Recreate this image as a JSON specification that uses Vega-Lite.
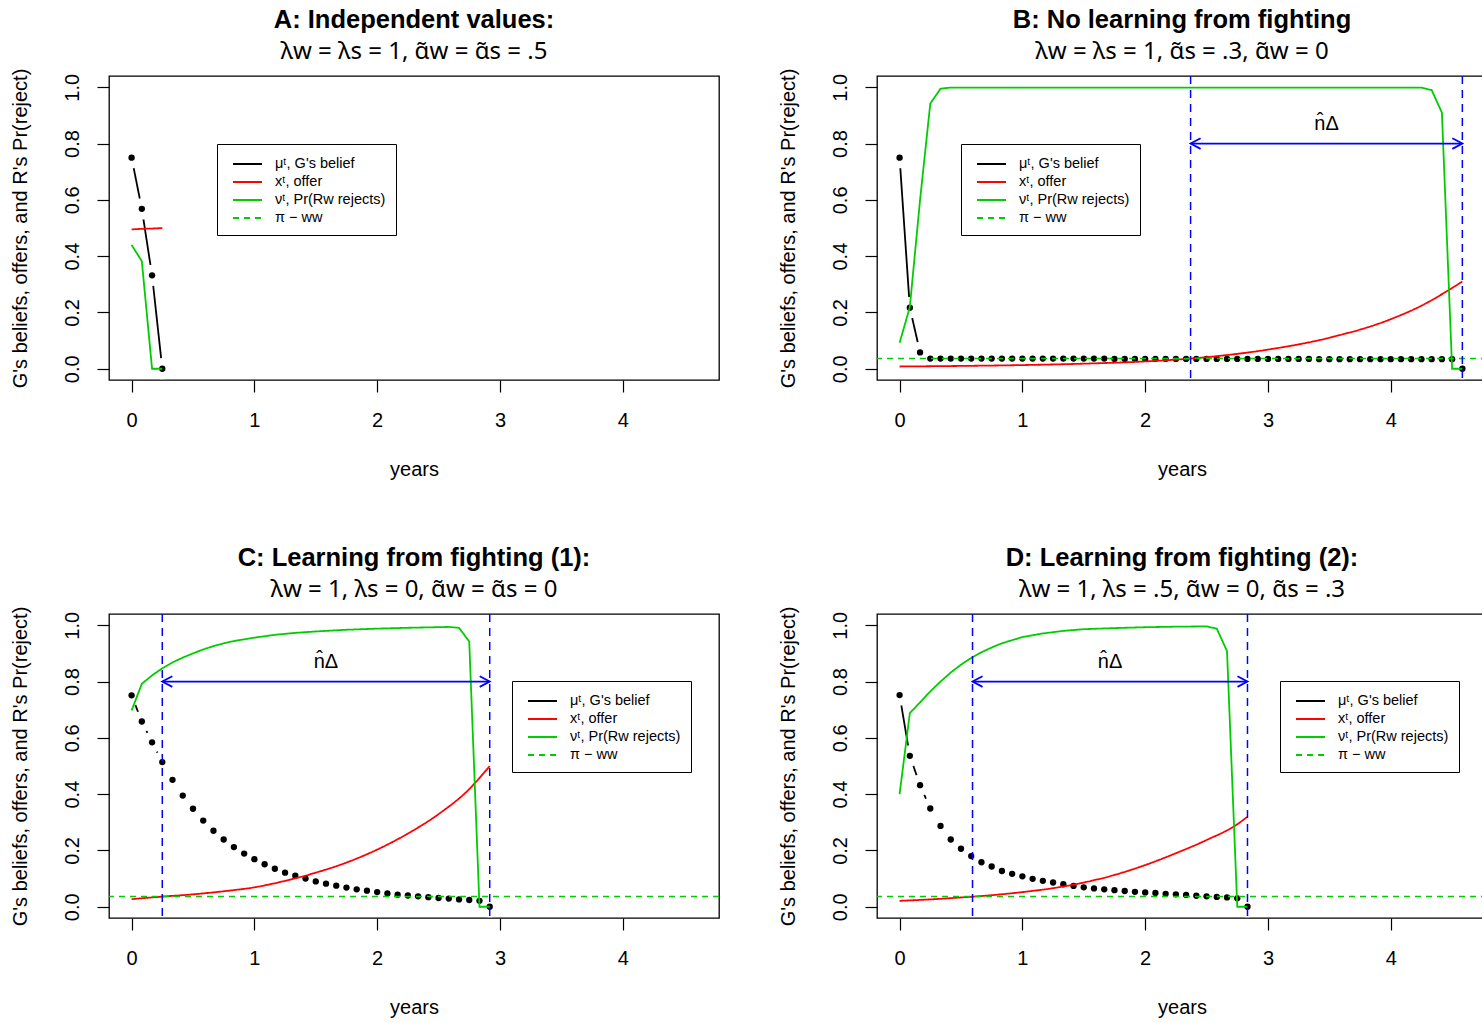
{
"$schema": "https://vega.github.io/schema/vega-lite/v6.json",
"padding": {"left": 9, "top": 7, "right": 0, "bottom": 0},
"background": "white",
"data": {"values": [
{"p":"A","s":"mu","t":0,"y":0.75},{"p":"A","s":"mu","t":0.0833,"y":0.568},{"p":"A","s":"mu","t":0.1667,"y":0.332},{"p":"A","s":"mu","t":0.25,"y":0},
{"p":"A","s":"x","t":0,"y":0.495},{"p":"A","s":"x","t":0.0833,"y":0.497},{"p":"A","s":"x","t":0.1667,"y":0.498},{"p":"A","s":"x","t":0.25,"y":0.5},
{"p":"A","s":"nu","t":0,"y":0.44},{"p":"A","s":"nu","t":0.0833,"y":0.382},{"p":"A","s":"nu","t":0.1667,"y":0},{"p":"A","s":"nu","t":0.25,"y":0},

{"p":"B","s":"mu","t":0,"y":0.75},{"p":"B","s":"mu","t":0.0833,"y":0.217},{"p":"B","s":"mu","t":0.1667,"y":0.058},{"p":"B","s":"mu","t":0.25,"y":0.036},
{"p":"B","s":"mu","t":0.3333,"y":0.036},{"p":"B","s":"mu","t":0.4167,"y":0.036},{"p":"B","s":"mu","t":0.5,"y":0.036},{"p":"B","s":"mu","t":0.5833,"y":0.036},
{"p":"B","s":"mu","t":0.6667,"y":0.036},{"p":"B","s":"mu","t":0.75,"y":0.036},{"p":"B","s":"mu","t":0.8333,"y":0.036},{"p":"B","s":"mu","t":0.9167,"y":0.036},
{"p":"B","s":"mu","t":1,"y":0.036},{"p":"B","s":"mu","t":1.0833,"y":0.036},{"p":"B","s":"mu","t":1.1667,"y":0.036},{"p":"B","s":"mu","t":1.25,"y":0.036},
{"p":"B","s":"mu","t":1.3333,"y":0.036},{"p":"B","s":"mu","t":1.4167,"y":0.036},{"p":"B","s":"mu","t":1.5,"y":0.036},{"p":"B","s":"mu","t":1.5833,"y":0.036},
{"p":"B","s":"mu","t":1.6667,"y":0.036},{"p":"B","s":"mu","t":1.75,"y":0.035},{"p":"B","s":"mu","t":1.8333,"y":0.035},{"p":"B","s":"mu","t":1.9167,"y":0.035},
{"p":"B","s":"mu","t":2,"y":0.035},{"p":"B","s":"mu","t":2.0833,"y":0.035},{"p":"B","s":"mu","t":2.1667,"y":0.035},{"p":"B","s":"mu","t":2.25,"y":0.035},
{"p":"B","s":"mu","t":2.3333,"y":0.035},{"p":"B","s":"mu","t":2.4167,"y":0.035},{"p":"B","s":"mu","t":2.5,"y":0.035},{"p":"B","s":"mu","t":2.5833,"y":0.035},
{"p":"B","s":"mu","t":2.6667,"y":0.035},{"p":"B","s":"mu","t":2.75,"y":0.035},{"p":"B","s":"mu","t":2.8333,"y":0.035},{"p":"B","s":"mu","t":2.9167,"y":0.035},
{"p":"B","s":"mu","t":3,"y":0.035},{"p":"B","s":"mu","t":3.0833,"y":0.035},{"p":"B","s":"mu","t":3.1667,"y":0.035},{"p":"B","s":"mu","t":3.25,"y":0.035},
{"p":"B","s":"mu","t":3.3333,"y":0.035},{"p":"B","s":"mu","t":3.4167,"y":0.034},{"p":"B","s":"mu","t":3.5,"y":0.034},{"p":"B","s":"mu","t":3.5833,"y":0.034},
{"p":"B","s":"mu","t":3.6667,"y":0.034},{"p":"B","s":"mu","t":3.75,"y":0.034},{"p":"B","s":"mu","t":3.8333,"y":0.034},{"p":"B","s":"mu","t":3.9167,"y":0.034},
{"p":"B","s":"mu","t":4,"y":0.034},{"p":"B","s":"mu","t":4.0833,"y":0.034},{"p":"B","s":"mu","t":4.1667,"y":0.034},{"p":"B","s":"mu","t":4.25,"y":0.034},
{"p":"B","s":"mu","t":4.3333,"y":0.034},{"p":"B","s":"mu","t":4.4167,"y":0.034},{"p":"B","s":"mu","t":4.5,"y":0.034},{"p":"B","s":"mu","t":4.5833,"y":0},
{"p":"B","s":"x","t":0,"y":0.008},{"p":"B","s":"x","t":0.5,"y":0.01},{"p":"B","s":"x","t":1,"y":0.013},{"p":"B","s":"x","t":1.5,"y":0.018},
{"p":"B","s":"x","t":2,"y":0.026},{"p":"B","s":"x","t":2.5,"y":0.041},{"p":"B","s":"x","t":3,"y":0.068},{"p":"B","s":"x","t":3.5,"y":0.11},
{"p":"B","s":"x","t":4,"y":0.176},{"p":"B","s":"x","t":4.25,"y":0.224},{"p":"B","s":"x","t":4.5,"y":0.287},{"p":"B","s":"x","t":4.5833,"y":0.31},
{"p":"B","s":"nu","t":0,"y":0.092},{"p":"B","s":"nu","t":0.0833,"y":0.219},{"p":"B","s":"nu","t":0.1667,"y":0.6},{"p":"B","s":"nu","t":0.25,"y":0.942},
{"p":"B","s":"nu","t":0.3333,"y":0.995},{"p":"B","s":"nu","t":0.4167,"y":0.999},{"p":"B","s":"nu","t":1,"y":0.999},{"p":"B","s":"nu","t":2,"y":0.999},
{"p":"B","s":"nu","t":3,"y":0.999},{"p":"B","s":"nu","t":4,"y":0.999},{"p":"B","s":"nu","t":4.25,"y":0.999},{"p":"B","s":"nu","t":4.3333,"y":0.99},
{"p":"B","s":"nu","t":4.4167,"y":0.91},{"p":"B","s":"nu","t":4.5,"y":0},{"p":"B","s":"nu","t":4.5833,"y":0},
{"p":"B","s":"pi","y":0.036},
{"p":"B","s":"vl","t":2.37},{"p":"B","s":"vl","t":4.5833},
{"p":"B","s":"ar","t":2.37,"t2":4.5833,"y":0.8},
{"p":"B","s":"lab","t":3.477,"y":0.87},

{"p":"C","s":"mu","t":0,"y":0.751},{"p":"C","s":"mu","t":0.0833,"y":0.658},{"p":"C","s":"mu","t":0.1667,"y":0.584},{"p":"C","s":"mu","t":0.25,"y":0.514},
{"p":"C","s":"mu","t":0.3333,"y":0.451},{"p":"C","s":"mu","t":0.4167,"y":0.395},{"p":"C","s":"mu","t":0.5,"y":0.348},{"p":"C","s":"mu","t":0.5833,"y":0.306},
{"p":"C","s":"mu","t":0.6667,"y":0.27},{"p":"C","s":"mu","t":0.75,"y":0.239},{"p":"C","s":"mu","t":0.8333,"y":0.212},{"p":"C","s":"mu","t":0.9167,"y":0.189},
{"p":"C","s":"mu","t":1,"y":0.169},{"p":"C","s":"mu","t":1.0833,"y":0.151},{"p":"C","s":"mu","t":1.1667,"y":0.135},{"p":"C","s":"mu","t":1.25,"y":0.121},
{"p":"C","s":"mu","t":1.3333,"y":0.11},{"p":"C","s":"mu","t":1.4167,"y":0.1},{"p":"C","s":"mu","t":1.5,"y":0.09},{"p":"C","s":"mu","t":1.5833,"y":0.082},
{"p":"C","s":"mu","t":1.6667,"y":0.075},{"p":"C","s":"mu","t":1.75,"y":0.068},{"p":"C","s":"mu","t":1.8333,"y":0.062},{"p":"C","s":"mu","t":1.9167,"y":0.057},
{"p":"C","s":"mu","t":2,"y":0.052},{"p":"C","s":"mu","t":2.0833,"y":0.047},{"p":"C","s":"mu","t":2.1667,"y":0.043},{"p":"C","s":"mu","t":2.25,"y":0.04},
{"p":"C","s":"mu","t":2.3333,"y":0.037},{"p":"C","s":"mu","t":2.4167,"y":0.034},{"p":"C","s":"mu","t":2.5,"y":0.031},{"p":"C","s":"mu","t":2.5833,"y":0.029},
{"p":"C","s":"mu","t":2.6667,"y":0.026},{"p":"C","s":"mu","t":2.75,"y":0.024},{"p":"C","s":"mu","t":2.8333,"y":0.021},{"p":"C","s":"mu","t":2.9167,"y":0},
{"p":"C","s":"x","t":0,"y":0.027},{"p":"C","s":"x","t":0.25,"y":0.036},{"p":"C","s":"x","t":0.5,"y":0.044},{"p":"C","s":"x","t":0.75,"y":0.055},
{"p":"C","s":"x","t":1,"y":0.069},{"p":"C","s":"x","t":1.25,"y":0.092},{"p":"C","s":"x","t":1.5,"y":0.121},{"p":"C","s":"x","t":1.75,"y":0.157},
{"p":"C","s":"x","t":2,"y":0.203},{"p":"C","s":"x","t":2.25,"y":0.26},{"p":"C","s":"x","t":2.5,"y":0.329},{"p":"C","s":"x","t":2.75,"y":0.418},{"p":"C","s":"x","t":2.9167,"y":0.5},
{"p":"C","s":"nu","t":0,"y":0.697},{"p":"C","s":"nu","t":0.0833,"y":0.792},{"p":"C","s":"nu","t":0.1667,"y":0.822},{"p":"C","s":"nu","t":0.25,"y":0.847},
{"p":"C","s":"nu","t":0.3333,"y":0.868},{"p":"C","s":"nu","t":0.4167,"y":0.885},{"p":"C","s":"nu","t":0.5,"y":0.9},{"p":"C","s":"nu","t":0.5833,"y":0.914},
{"p":"C","s":"nu","t":0.6667,"y":0.926},{"p":"C","s":"nu","t":0.75,"y":0.936},{"p":"C","s":"nu","t":0.8333,"y":0.944},{"p":"C","s":"nu","t":1,"y":0.956},
{"p":"C","s":"nu","t":1.1667,"y":0.966},{"p":"C","s":"nu","t":1.3333,"y":0.973},{"p":"C","s":"nu","t":1.5,"y":0.978},{"p":"C","s":"nu","t":1.75,"y":0.984},
{"p":"C","s":"nu","t":2,"y":0.988},{"p":"C","s":"nu","t":2.25,"y":0.991},{"p":"C","s":"nu","t":2.5833,"y":0.994},{"p":"C","s":"nu","t":2.6667,"y":0.991},
{"p":"C","s":"nu","t":2.75,"y":0.942},{"p":"C","s":"nu","t":2.8333,"y":0},{"p":"C","s":"nu","t":2.9167,"y":0},
{"p":"C","s":"pi","y":0.036},
{"p":"C","s":"vl","t":0.25},{"p":"C","s":"vl","t":2.9167},
{"p":"C","s":"ar","t":0.25,"t2":2.9167,"y":0.8},
{"p":"C","s":"lab","t":1.583,"y":0.87},

{"p":"D","s":"mu","t":0,"y":0.752},{"p":"D","s":"mu","t":0.0833,"y":0.536},{"p":"D","s":"mu","t":0.1667,"y":0.432},{"p":"D","s":"mu","t":0.25,"y":0.349},
{"p":"D","s":"mu","t":0.3333,"y":0.287},{"p":"D","s":"mu","t":0.4167,"y":0.239},{"p":"D","s":"mu","t":0.5,"y":0.206},{"p":"D","s":"mu","t":0.5833,"y":0.18},
{"p":"D","s":"mu","t":0.6667,"y":0.158},{"p":"D","s":"mu","t":0.75,"y":0.143},{"p":"D","s":"mu","t":0.8333,"y":0.127},{"p":"D","s":"mu","t":0.9167,"y":0.117},
{"p":"D","s":"mu","t":1,"y":0.108},{"p":"D","s":"mu","t":1.0833,"y":0.099},{"p":"D","s":"mu","t":1.1667,"y":0.092},{"p":"D","s":"mu","t":1.25,"y":0.086},
{"p":"D","s":"mu","t":1.3333,"y":0.08},{"p":"D","s":"mu","t":1.4167,"y":0.074},{"p":"D","s":"mu","t":1.5,"y":0.069},{"p":"D","s":"mu","t":1.5833,"y":0.065},
{"p":"D","s":"mu","t":1.6667,"y":0.062},{"p":"D","s":"mu","t":1.75,"y":0.059},{"p":"D","s":"mu","t":1.8333,"y":0.056},{"p":"D","s":"mu","t":1.9167,"y":0.053},
{"p":"D","s":"mu","t":2,"y":0.051},{"p":"D","s":"mu","t":2.0833,"y":0.049},{"p":"D","s":"mu","t":2.1667,"y":0.046},{"p":"D","s":"mu","t":2.25,"y":0.044},
{"p":"D","s":"mu","t":2.3333,"y":0.042},{"p":"D","s":"mu","t":2.4167,"y":0.039},{"p":"D","s":"mu","t":2.5,"y":0.037},{"p":"D","s":"mu","t":2.5833,"y":0.035},
{"p":"D","s":"mu","t":2.6667,"y":0.033},{"p":"D","s":"mu","t":2.75,"y":0.03},{"p":"D","s":"mu","t":2.8333,"y":0},
{"p":"D","s":"x","t":0,"y":0.021},{"p":"D","s":"x","t":0.25,"y":0.026},{"p":"D","s":"x","t":0.5,"y":0.033},{"p":"D","s":"x","t":0.75,"y":0.041},
{"p":"D","s":"x","t":1,"y":0.052},{"p":"D","s":"x","t":1.25,"y":0.066},{"p":"D","s":"x","t":1.5,"y":0.086},{"p":"D","s":"x","t":1.75,"y":0.113},
{"p":"D","s":"x","t":2,"y":0.148},{"p":"D","s":"x","t":2.25,"y":0.19},{"p":"D","s":"x","t":2.5,"y":0.237},{"p":"D","s":"x","t":2.75,"y":0.293},{"p":"D","s":"x","t":2.8333,"y":0.32},
{"p":"D","s":"nu","t":0,"y":0.4},{"p":"D","s":"nu","t":0.0833,"y":0.688},{"p":"D","s":"nu","t":0.1667,"y":0.726},{"p":"D","s":"nu","t":0.25,"y":0.765},
{"p":"D","s":"nu","t":0.3333,"y":0.8},{"p":"D","s":"nu","t":0.4167,"y":0.832},{"p":"D","s":"nu","t":0.5,"y":0.86},{"p":"D","s":"nu","t":0.5833,"y":0.884},
{"p":"D","s":"nu","t":0.6667,"y":0.904},{"p":"D","s":"nu","t":0.75,"y":0.921},{"p":"D","s":"nu","t":0.8333,"y":0.936},{"p":"D","s":"nu","t":1,"y":0.958},
{"p":"D","s":"nu","t":1.1667,"y":0.971},{"p":"D","s":"nu","t":1.3333,"y":0.98},{"p":"D","s":"nu","t":1.5,"y":0.986},{"p":"D","s":"nu","t":1.75,"y":0.99},
{"p":"D","s":"nu","t":2,"y":0.993},{"p":"D","s":"nu","t":2.25,"y":0.995},{"p":"D","s":"nu","t":2.5,"y":0.996},{"p":"D","s":"nu","t":2.5833,"y":0.988},
{"p":"D","s":"nu","t":2.6667,"y":0.908},{"p":"D","s":"nu","t":2.75,"y":0},{"p":"D","s":"nu","t":2.8333,"y":0},
{"p":"D","s":"pi","y":0.036},
{"p":"D","s":"vl","t":0.594},{"p":"D","s":"vl","t":2.8333},
{"p":"D","s":"ar","t":0.594,"t2":2.8333,"y":0.8},
{"p":"D","s":"lab","t":1.714,"y":0.87}
]},
"columns": 2,
"spacing": {"row": 234, "column": 158},
"bounds": "flush",
"resolve": {"scale": {"color": "independent", "strokeDash": "independent", "x": "independent", "y": "independent"}, "legend": {"color": "independent", "strokeDash": "independent"}},
"concat": [
{
 "width": 610, "height": 304,
 "title": {"text": "A: Independent values:", "subtitle": "λw = λs = 1, \u03b1\u0303w = \u03b1\u0303s = .5"},
 "transform": [{"filter": "datum.p=='A'"}],
 "layer": [
  {"transform": [{"filter": "datum.s=='mu'"}], "mark": {"type": "line", "strokeWidth": 1.8},
   "encoding": {
    "x": {"field": "t", "type": "quantitative", "scale": {"domain": [-0.184, 4.784], "nice": false, "zero": false}, "axis": {"title": "years", "values": [0,1,2,3,4], "format": "d"}},
    "y": {"field": "y", "type": "quantitative", "scale": {"domain": [-0.04, 1.04], "nice": false, "zero": false}, "axis": {"title": "G's beliefs, offers, and R's Pr(reject)", "values": [0,0.2,0.4,0.6,0.8,1], "format": ".1f"}},
    "color": {"field": "s", "type": "nominal", "scale": {"domain": ["mu","x","nu","pi"], "range": ["#000000","#FF0000","#00CD00","#00CD00"]}, "legend": {"orient": "none", "legendX": 108, "legendY": 68, "title": null, "symbolType": "M-0.444,0H2.778", "symbolSize": 324, "symbolStrokeWidth": 1.8, "labelExpr": "datum.label=='mu' ? \"μᵗ, G's belief\" : datum.label=='x' ? 'xᵗ, offer' : datum.label=='nu' ? 'νᵗ, Pr(Rw rejects)' : 'π − ww'"}},
    "strokeDash": {"field": "s", "type": "nominal", "scale": {"domain": ["mu","x","nu","pi"], "range": [[1,0],[1,0],[1,0],[6,5]]}, "legend": {"orient": "none", "legendX": 108, "legendY": 68, "title": null, "symbolType": "M-0.444,0H2.778", "symbolSize": 324, "symbolStrokeWidth": 1.8, "labelExpr": "datum.label=='mu' ? \"μᵗ, G's belief\" : datum.label=='x' ? 'xᵗ, offer' : datum.label=='nu' ? 'νᵗ, Pr(Rw rejects)' : 'π − ww'"}}
   }},
  {"transform": [{"filter": "datum.s=='mu'"}], "mark": {"type": "circle", "color": "white", "opacity": 1, "size": 452, "clip": true},
   "encoding": {"x": {"field": "t", "type": "quantitative"}, "y": {"field": "y", "type": "quantitative"}}},
  {"transform": [{"filter": "datum.s=='mu'"}], "mark": {"type": "circle", "color": "black", "opacity": 1, "size": 40},
   "encoding": {"x": {"field": "t", "type": "quantitative"}, "y": {"field": "y", "type": "quantitative"}}},
  {"transform": [{"filter": "datum.s=='x'"}], "mark": {"type": "line", "strokeWidth": 1.8, "interpolate": "monotone"},
   "encoding": {"x": {"field": "t", "type": "quantitative"}, "y": {"field": "y", "type": "quantitative"}, "color": {"field": "s", "type": "nominal"}, "strokeDash": {"field": "s", "type": "nominal"}}},
  {"transform": [{"filter": "datum.s=='nu'"}], "mark": {"type": "line", "strokeWidth": 1.8},
   "encoding": {"x": {"field": "t", "type": "quantitative"}, "y": {"field": "y", "type": "quantitative"}, "color": {"field": "s", "type": "nominal"}, "strokeDash": {"field": "s", "type": "nominal"}}}
 ]
},
{
 "width": 610, "height": 304,
 "title": {"text": "B: No learning from fighting", "subtitle": "λw = λs = 1, \u03b1\u0303s = .3, \u03b1\u0303w = 0"},
 "transform": [{"filter": "datum.p=='B'"}],
 "layer": [
  {"transform": [{"filter": "datum.s=='mu'"}], "mark": {"type": "line", "strokeWidth": 1.8},
   "encoding": {
    "x": {"field": "t", "type": "quantitative", "scale": {"domain": [-0.184, 4.784], "nice": false, "zero": false}, "axis": {"title": "years", "values": [0,1,2,3,4], "format": "d"}},
    "y": {"field": "y", "type": "quantitative", "scale": {"domain": [-0.04, 1.04], "nice": false, "zero": false}, "axis": {"title": "G's beliefs, offers, and R's Pr(reject)", "values": [0,0.2,0.4,0.6,0.8,1], "format": ".1f"}},
    "color": {"field": "s", "type": "nominal", "scale": {"domain": ["mu","x","nu","pi"], "range": ["#000000","#FF0000","#00CD00","#00CD00"]}, "legend": {"orient": "none", "legendX": 84, "legendY": 68, "title": null, "symbolType": "M-0.444,0H2.778", "symbolSize": 324, "symbolStrokeWidth": 1.8, "labelExpr": "datum.label=='mu' ? \"μᵗ, G's belief\" : datum.label=='x' ? 'xᵗ, offer' : datum.label=='nu' ? 'νᵗ, Pr(Rw rejects)' : 'π − ww'"}},
    "strokeDash": {"field": "s", "type": "nominal", "scale": {"domain": ["mu","x","nu","pi"], "range": [[1,0],[1,0],[1,0],[6,5]]}, "legend": {"orient": "none", "legendX": 84, "legendY": 68, "title": null, "symbolType": "M-0.444,0H2.778", "symbolSize": 324, "symbolStrokeWidth": 1.8, "labelExpr": "datum.label=='mu' ? \"μᵗ, G's belief\" : datum.label=='x' ? 'xᵗ, offer' : datum.label=='nu' ? 'νᵗ, Pr(Rw rejects)' : 'π − ww'"}}
   }},
  {"transform": [{"filter": "datum.s=='mu'"}], "mark": {"type": "circle", "color": "white", "opacity": 1, "size": 452, "clip": true},
   "encoding": {"x": {"field": "t", "type": "quantitative"}, "y": {"field": "y", "type": "quantitative"}}},
  {"transform": [{"filter": "datum.s=='mu'"}], "mark": {"type": "circle", "color": "black", "opacity": 1, "size": 40},
   "encoding": {"x": {"field": "t", "type": "quantitative"}, "y": {"field": "y", "type": "quantitative"}}},
  {"transform": [{"filter": "datum.s=='x'"}], "mark": {"type": "line", "strokeWidth": 1.8, "interpolate": "monotone"},
   "encoding": {"x": {"field": "t", "type": "quantitative"}, "y": {"field": "y", "type": "quantitative"}, "color": {"field": "s", "type": "nominal"}, "strokeDash": {"field": "s", "type": "nominal"}}},
  {"transform": [{"filter": "datum.s=='nu'"}], "mark": {"type": "line", "strokeWidth": 1.8},
   "encoding": {"x": {"field": "t", "type": "quantitative"}, "y": {"field": "y", "type": "quantitative"}, "color": {"field": "s", "type": "nominal"}, "strokeDash": {"field": "s", "type": "nominal"}}},
  {"transform": [{"filter": "datum.s=='pi'"}], "mark": {"type": "rule", "strokeWidth": 1.5},
   "encoding": {"y": {"field": "y", "type": "quantitative"}, "color": {"field": "s", "type": "nominal"}, "strokeDash": {"field": "s", "type": "nominal"}}},
  {"transform": [{"filter": "datum.s=='vl'"}], "mark": {"type": "rule", "color": "#0000FF", "strokeWidth": 1.5, "strokeDash": [8,6]},
   "encoding": {"x": {"field": "t", "type": "quantitative"}}},
  {"transform": [{"filter": "datum.s=='ar'"}], "mark": {"type": "rule", "color": "#0000FF", "strokeWidth": 1.8},
   "encoding": {"x": {"field": "t", "type": "quantitative"}, "x2": {"field": "t2"}, "y": {"field": "y", "type": "quantitative"}}},
  {"transform": [{"filter": "datum.s=='ar'"}], "mark": {"type": "point", "shape": "M1,-0.53L0,0L1,0.53", "filled": false, "color": "#0000FF", "opacity": 1, "strokeWidth": 1.8, "size": 400},
   "encoding": {"x": {"field": "t", "type": "quantitative"}, "y": {"field": "y", "type": "quantitative"}}},
  {"transform": [{"filter": "datum.s=='ar'"}], "mark": {"type": "point", "shape": "M-1,-0.53L0,0L-1,0.53", "filled": false, "color": "#0000FF", "opacity": 1, "strokeWidth": 1.8, "size": 400},
   "encoding": {"x": {"field": "t2", "type": "quantitative"}, "y": {"field": "y", "type": "quantitative"}}},
  {"transform": [{"filter": "datum.s=='lab'"}], "mark": {"type": "text", "text": "n̂Δ", "font": "Liberation Sans", "fontSize": 20, "color": "black", "baseline": "middle", "align": "center"},
   "encoding": {"x": {"field": "t", "type": "quantitative"}, "y": {"field": "y", "type": "quantitative"}}}
 ]
},
{
 "width": 610, "height": 304,
 "title": {"text": "C: Learning from fighting (1):", "subtitle": "λw = 1, λs = 0, \u03b1\u0303w = \u03b1\u0303s = 0"},
 "transform": [{"filter": "datum.p=='C'"}],
 "layer": [
  {"transform": [{"filter": "datum.s=='mu'"}], "mark": {"type": "line", "strokeWidth": 1.8},
   "encoding": {
    "x": {"field": "t", "type": "quantitative", "scale": {"domain": [-0.184, 4.784], "nice": false, "zero": false}, "axis": {"title": "years", "values": [0,1,2,3,4], "format": "d"}},
    "y": {"field": "y", "type": "quantitative", "scale": {"domain": [-0.04, 1.04], "nice": false, "zero": false}, "axis": {"title": "G's beliefs, offers, and R's Pr(reject)", "values": [0,0.2,0.4,0.6,0.8,1], "format": ".1f"}},
    "color": {"field": "s", "type": "nominal", "scale": {"domain": ["mu","x","nu","pi"], "range": ["#000000","#FF0000","#00CD00","#00CD00"]}, "legend": {"orient": "none", "legendX": 403, "legendY": 67, "title": null, "symbolType": "M-0.444,0H2.778", "symbolSize": 324, "symbolStrokeWidth": 1.8, "labelExpr": "datum.label=='mu' ? \"μᵗ, G's belief\" : datum.label=='x' ? 'xᵗ, offer' : datum.label=='nu' ? 'νᵗ, Pr(Rw rejects)' : 'π − ww'"}},
    "strokeDash": {"field": "s", "type": "nominal", "scale": {"domain": ["mu","x","nu","pi"], "range": [[1,0],[1,0],[1,0],[6,5]]}, "legend": {"orient": "none", "legendX": 403, "legendY": 67, "title": null, "symbolType": "M-0.444,0H2.778", "symbolSize": 324, "symbolStrokeWidth": 1.8, "labelExpr": "datum.label=='mu' ? \"μᵗ, G's belief\" : datum.label=='x' ? 'xᵗ, offer' : datum.label=='nu' ? 'νᵗ, Pr(Rw rejects)' : 'π − ww'"}}
   }},
  {"transform": [{"filter": "datum.s=='mu'"}], "mark": {"type": "circle", "color": "white", "opacity": 1, "size": 452, "clip": true},
   "encoding": {"x": {"field": "t", "type": "quantitative"}, "y": {"field": "y", "type": "quantitative"}}},
  {"transform": [{"filter": "datum.s=='mu'"}], "mark": {"type": "circle", "color": "black", "opacity": 1, "size": 40},
   "encoding": {"x": {"field": "t", "type": "quantitative"}, "y": {"field": "y", "type": "quantitative"}}},
  {"transform": [{"filter": "datum.s=='x'"}], "mark": {"type": "line", "strokeWidth": 1.8, "interpolate": "monotone"},
   "encoding": {"x": {"field": "t", "type": "quantitative"}, "y": {"field": "y", "type": "quantitative"}, "color": {"field": "s", "type": "nominal"}, "strokeDash": {"field": "s", "type": "nominal"}}},
  {"transform": [{"filter": "datum.s=='nu'"}], "mark": {"type": "line", "strokeWidth": 1.8},
   "encoding": {"x": {"field": "t", "type": "quantitative"}, "y": {"field": "y", "type": "quantitative"}, "color": {"field": "s", "type": "nominal"}, "strokeDash": {"field": "s", "type": "nominal"}}},
  {"transform": [{"filter": "datum.s=='pi'"}], "mark": {"type": "rule", "strokeWidth": 1.5},
   "encoding": {"y": {"field": "y", "type": "quantitative"}, "color": {"field": "s", "type": "nominal"}, "strokeDash": {"field": "s", "type": "nominal"}}},
  {"transform": [{"filter": "datum.s=='vl'"}], "mark": {"type": "rule", "color": "#0000FF", "strokeWidth": 1.5, "strokeDash": [8,6]},
   "encoding": {"x": {"field": "t", "type": "quantitative"}}},
  {"transform": [{"filter": "datum.s=='ar'"}], "mark": {"type": "rule", "color": "#0000FF", "strokeWidth": 1.8},
   "encoding": {"x": {"field": "t", "type": "quantitative"}, "x2": {"field": "t2"}, "y": {"field": "y", "type": "quantitative"}}},
  {"transform": [{"filter": "datum.s=='ar'"}], "mark": {"type": "point", "shape": "M1,-0.53L0,0L1,0.53", "filled": false, "color": "#0000FF", "opacity": 1, "strokeWidth": 1.8, "size": 400},
   "encoding": {"x": {"field": "t", "type": "quantitative"}, "y": {"field": "y", "type": "quantitative"}}},
  {"transform": [{"filter": "datum.s=='ar'"}], "mark": {"type": "point", "shape": "M-1,-0.53L0,0L-1,0.53", "filled": false, "color": "#0000FF", "opacity": 1, "strokeWidth": 1.8, "size": 400},
   "encoding": {"x": {"field": "t2", "type": "quantitative"}, "y": {"field": "y", "type": "quantitative"}}},
  {"transform": [{"filter": "datum.s=='lab'"}], "mark": {"type": "text", "text": "n̂Δ", "font": "Liberation Sans", "fontSize": 20, "color": "black", "baseline": "middle", "align": "center"},
   "encoding": {"x": {"field": "t", "type": "quantitative"}, "y": {"field": "y", "type": "quantitative"}}}
 ]
},
{
 "width": 610, "height": 304,
 "title": {"text": "D: Learning from fighting (2):", "subtitle": "λw = 1, λs = .5, \u03b1\u0303w = 0, \u03b1\u0303s = .3"},
 "transform": [{"filter": "datum.p=='D'"}],
 "layer": [
  {"transform": [{"filter": "datum.s=='mu'"}], "mark": {"type": "line", "strokeWidth": 1.8},
   "encoding": {
    "x": {"field": "t", "type": "quantitative", "scale": {"domain": [-0.184, 4.784], "nice": false, "zero": false}, "axis": {"title": "years", "values": [0,1,2,3,4], "format": "d"}},
    "y": {"field": "y", "type": "quantitative", "scale": {"domain": [-0.04, 1.04], "nice": false, "zero": false}, "axis": {"title": "G's beliefs, offers, and R's Pr(reject)", "values": [0,0.2,0.4,0.6,0.8,1], "format": ".1f"}},
    "color": {"field": "s", "type": "nominal", "scale": {"domain": ["mu","x","nu","pi"], "range": ["#000000","#FF0000","#00CD00","#00CD00"]}, "legend": {"orient": "none", "legendX": 403, "legendY": 67, "title": null, "symbolType": "M-0.444,0H2.778", "symbolSize": 324, "symbolStrokeWidth": 1.8, "labelExpr": "datum.label=='mu' ? \"μᵗ, G's belief\" : datum.label=='x' ? 'xᵗ, offer' : datum.label=='nu' ? 'νᵗ, Pr(Rw rejects)' : 'π − ww'"}},
    "strokeDash": {"field": "s", "type": "nominal", "scale": {"domain": ["mu","x","nu","pi"], "range": [[1,0],[1,0],[1,0],[6,5]]}, "legend": {"orient": "none", "legendX": 403, "legendY": 67, "title": null, "symbolType": "M-0.444,0H2.778", "symbolSize": 324, "symbolStrokeWidth": 1.8, "labelExpr": "datum.label=='mu' ? \"μᵗ, G's belief\" : datum.label=='x' ? 'xᵗ, offer' : datum.label=='nu' ? 'νᵗ, Pr(Rw rejects)' : 'π − ww'"}}
   }},
  {"transform": [{"filter": "datum.s=='mu'"}], "mark": {"type": "circle", "color": "white", "opacity": 1, "size": 452, "clip": true},
   "encoding": {"x": {"field": "t", "type": "quantitative"}, "y": {"field": "y", "type": "quantitative"}}},
  {"transform": [{"filter": "datum.s=='mu'"}], "mark": {"type": "circle", "color": "black", "opacity": 1, "size": 40},
   "encoding": {"x": {"field": "t", "type": "quantitative"}, "y": {"field": "y", "type": "quantitative"}}},
  {"transform": [{"filter": "datum.s=='x'"}], "mark": {"type": "line", "strokeWidth": 1.8, "interpolate": "monotone"},
   "encoding": {"x": {"field": "t", "type": "quantitative"}, "y": {"field": "y", "type": "quantitative"}, "color": {"field": "s", "type": "nominal"}, "strokeDash": {"field": "s", "type": "nominal"}}},
  {"transform": [{"filter": "datum.s=='nu'"}], "mark": {"type": "line", "strokeWidth": 1.8},
   "encoding": {"x": {"field": "t", "type": "quantitative"}, "y": {"field": "y", "type": "quantitative"}, "color": {"field": "s", "type": "nominal"}, "strokeDash": {"field": "s", "type": "nominal"}}},
  {"transform": [{"filter": "datum.s=='pi'"}], "mark": {"type": "rule", "strokeWidth": 1.5},
   "encoding": {"y": {"field": "y", "type": "quantitative"}, "color": {"field": "s", "type": "nominal"}, "strokeDash": {"field": "s", "type": "nominal"}}},
  {"transform": [{"filter": "datum.s=='vl'"}], "mark": {"type": "rule", "color": "#0000FF", "strokeWidth": 1.5, "strokeDash": [8,6]},
   "encoding": {"x": {"field": "t", "type": "quantitative"}}},
  {"transform": [{"filter": "datum.s=='ar'"}], "mark": {"type": "rule", "color": "#0000FF", "strokeWidth": 1.8},
   "encoding": {"x": {"field": "t", "type": "quantitative"}, "x2": {"field": "t2"}, "y": {"field": "y", "type": "quantitative"}}},
  {"transform": [{"filter": "datum.s=='ar'"}], "mark": {"type": "point", "shape": "M1,-0.53L0,0L1,0.53", "filled": false, "color": "#0000FF", "opacity": 1, "strokeWidth": 1.8, "size": 400},
   "encoding": {"x": {"field": "t", "type": "quantitative"}, "y": {"field": "y", "type": "quantitative"}}},
  {"transform": [{"filter": "datum.s=='ar'"}], "mark": {"type": "point", "shape": "M-1,-0.53L0,0L-1,0.53", "filled": false, "color": "#0000FF", "opacity": 1, "strokeWidth": 1.8, "size": 400},
   "encoding": {"x": {"field": "t2", "type": "quantitative"}, "y": {"field": "y", "type": "quantitative"}}},
  {"transform": [{"filter": "datum.s=='lab'"}], "mark": {"type": "text", "text": "n̂Δ", "font": "Liberation Sans", "fontSize": 20, "color": "black", "baseline": "middle", "align": "center"},
   "encoding": {"x": {"field": "t", "type": "quantitative"}, "y": {"field": "y", "type": "quantitative"}}}
 ]
}
],
"config": {
 "font": "Liberation Sans",
 "view": {"stroke": "#000000", "strokeWidth": 1.3},
 "axis": {"domain": false, "grid": false, "ticks": true, "tickColor": "#000000", "tickSize": 12, "tickWidth": 1.2, "labelFont": "Liberation Sans", "labelFontSize": 20, "labelColor": "#000000", "titleFont": "Liberation Sans", "titleFontSize": 20, "titleFontWeight": "normal", "titleColor": "#000000", "labelOverlap": false, "labelFlush": false},
 "axisX": {"labelPadding": 18, "titlePadding": 29},
 "axisY": {"labelAngle": 270, "labelAlign": "center", "labelBaseline": "bottom", "labelPadding": 15, "titlePadding": 32},
 "title": {"font": "Liberation Sans", "fontSize": 25.5, "fontWeight": "bold", "color": "#000000", "subtitleFont": "Noto Sans", "subtitleFontSize": 24, "subtitleFontWeight": "normal", "subtitleColor": "#000000", "anchor": "middle", "offset": 4, "subtitlePadding": 6.5},
 "legend": {"labelFont": "Liberation Sans", "labelFontSize": 14.5, "labelColor": "#000000", "labelOffset": 28, "rowPadding": 1, "padding": 10, "strokeColor": "#000000", "fillColor": "#FFFFFF", "labelLimit": 400, "cornerRadius": 0}
}
}
